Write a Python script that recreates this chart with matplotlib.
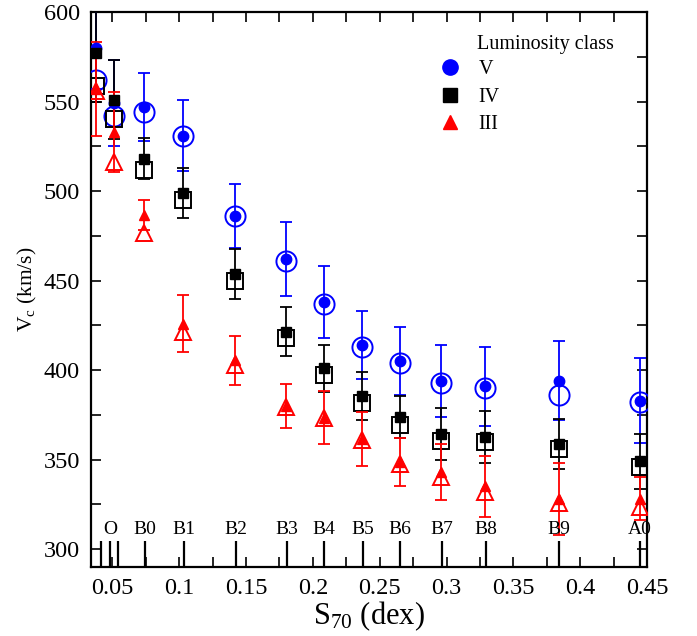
import numpy as np
import matplotlib
matplotlib.use('Agg')
import matplotlib.pyplot as plt
from matplotlib.ticker import MultipleLocator, FormatStrFormatter
from matplotlib.lines import Line2D

plt.rcParams['font.family'] = ['Liberation Serif', 'DejaVu Serif']
plt.rcParams['mathtext.fontset'] = 'custom'
plt.rcParams['mathtext.rm'] = 'Liberation Serif'
plt.rcParams['mathtext.default'] = 'rm'

# S70 of each bin
s70 = [0.038, 0.051, 0.074, 0.103, 0.142, 0.180, 0.208, 0.237, 0.265, 0.296, 0.329, 0.384, 0.445]

# class V (blue)
v_fill = [580, 549, 547, 531, 486, 462, 438, 414, 405, 394, 391, 394, 383]
v_err = [23, 24, 19, 20, 18, 20.5, 20, 19, 19, 20, 22, 22, 24]
v_open = [562, 542, 544, 531, 486, 461, 437, 413, 404, 393, 390, 386, 382]

# class IV (black)
iv_fill = [577, 551, 518, 499, 453.5, 421.5, 401, 385.5, 373.6, 364.5, 362.7, 358.5, 349]
iv_err = [27, 22, 11.5, 14, 14, 13.6, 13, 13.6, 11.8, 14.5, 14.7, 14, 15.3]
iv_open = [558.5, 540, 512, 495, 449.5, 418, 397, 381.5, 369.5, 360.5, 360, 355.7, 346]

# class III (red)
iii_fill = [557, 533, 486.5, 426, 405.5, 380, 373.5, 361.5, 348.5, 343, 335, 328, 328]
iii_err = [26, 22.5, 8.5, 15.7, 13.6, 12.3, 14.7, 14.9, 13.5, 15.5, 17, 20, 12]
iii_open = [556, 516.5, 476.5, 421.5, 403, 379.5, 373, 361, 347.3, 340.5, 332, 325.5, 323.5]

# spectral type marks along the bottom
sp_pos = [0.0415, 0.0485, 0.0543, 0.0745, 0.1036, 0.1422, 0.1804, 0.2083, 0.2372,
          0.2653, 0.2963, 0.3292, 0.3838, 0.4446]
sp_lab_pos = [0.0485, 0.0745, 0.1036, 0.1422, 0.1804, 0.2083, 0.2372,
              0.2653, 0.2963, 0.3292, 0.3838, 0.4446]
sp_lab = ['O', 'B0', 'B1', 'B2', 'B3', 'B4', 'B5', 'B6', 'B7', 'B8', 'B9', 'A0']

fig = plt.figure(figsize=(6.97, 6.36), dpi=100)
ax = fig.add_axes([0.1306, 0.1085, 0.7977, 0.8726])

series = [
    (v_fill, v_err, v_open, 'o', '#0000ff', 7.5, 14.5),
    (iv_fill, iv_err, iv_open, 's', 'black', 7, 11.5),
    (iii_fill, iii_err, iii_open, '^', '#ff0000', 7.5, 12),
]
for yf, ye, yo, mk, c, ms1, ms2 in series:
    ax.errorbar(s70, yf, yerr=ye, fmt=mk, color=c, ms=ms1, capsize=4.3,
                elinewidth=1.3, capthick=1.3, zorder=3)
    ax.plot(s70, yo, mk, mfc='none', mec=c, mew=1.4, ms=ms2, zorder=3)

ax.vlines(sp_pos, 0, 0.047, transform=ax.get_xaxis_transform(), color='black', lw=1.6)
for p, l in zip(sp_lab_pos, sp_lab):
    ax.text(p, 0.068, l, transform=ax.get_xaxis_transform(), ha='center', va='center', fontsize=14)

ax.set_xlim(0.034, 0.45)
ax.set_ylim(290, 600)
ax.xaxis.set_major_locator(MultipleLocator(0.05))
ax.xaxis.set_minor_locator(MultipleLocator(0.025))
ax.xaxis.set_major_formatter(FormatStrFormatter('%g'))
ax.yaxis.set_major_locator(MultipleLocator(50))
ax.yaxis.set_minor_locator(MultipleLocator(25))
ax.tick_params(which='both', direction='in', top=True, right=True, width=1.2, labelsize=17.5)
ax.tick_params(which='major', length=7, pad=8)
ax.tick_params(which='minor', length=7)
for sp in ax.spines.values():
    sp.set_linewidth(1.6)

ax.set_xlabel('S$_{70}$ (dex)', fontsize=22, labelpad=0)
ax.set_ylabel('V$_{\\rm c}$ (km/s)', fontsize=15.5, labelpad=3)

handles = [
    Line2D([], [], ls='none', marker='o', color='#0000ff', ms=11),
    Line2D([], [], ls='none', marker='s', color='black', ms=10),
    Line2D([], [], ls='none', marker='^', color='#ff0000', ms=10),
]
ax.text(0.694, 0.941, 'Luminosity class', transform=ax.transAxes, fontsize=14.5, va='center')
ax.legend(handles, ['V', 'IV', 'III'], loc='upper left', bbox_to_anchor=(0.628, 0.913),
          frameon=False, fontsize=14.5, handlelength=1.0, handletextpad=0.9,
          borderpad=0, borderaxespad=0, labelspacing=0.4)

fig.savefig('out.png', dpi=100)
